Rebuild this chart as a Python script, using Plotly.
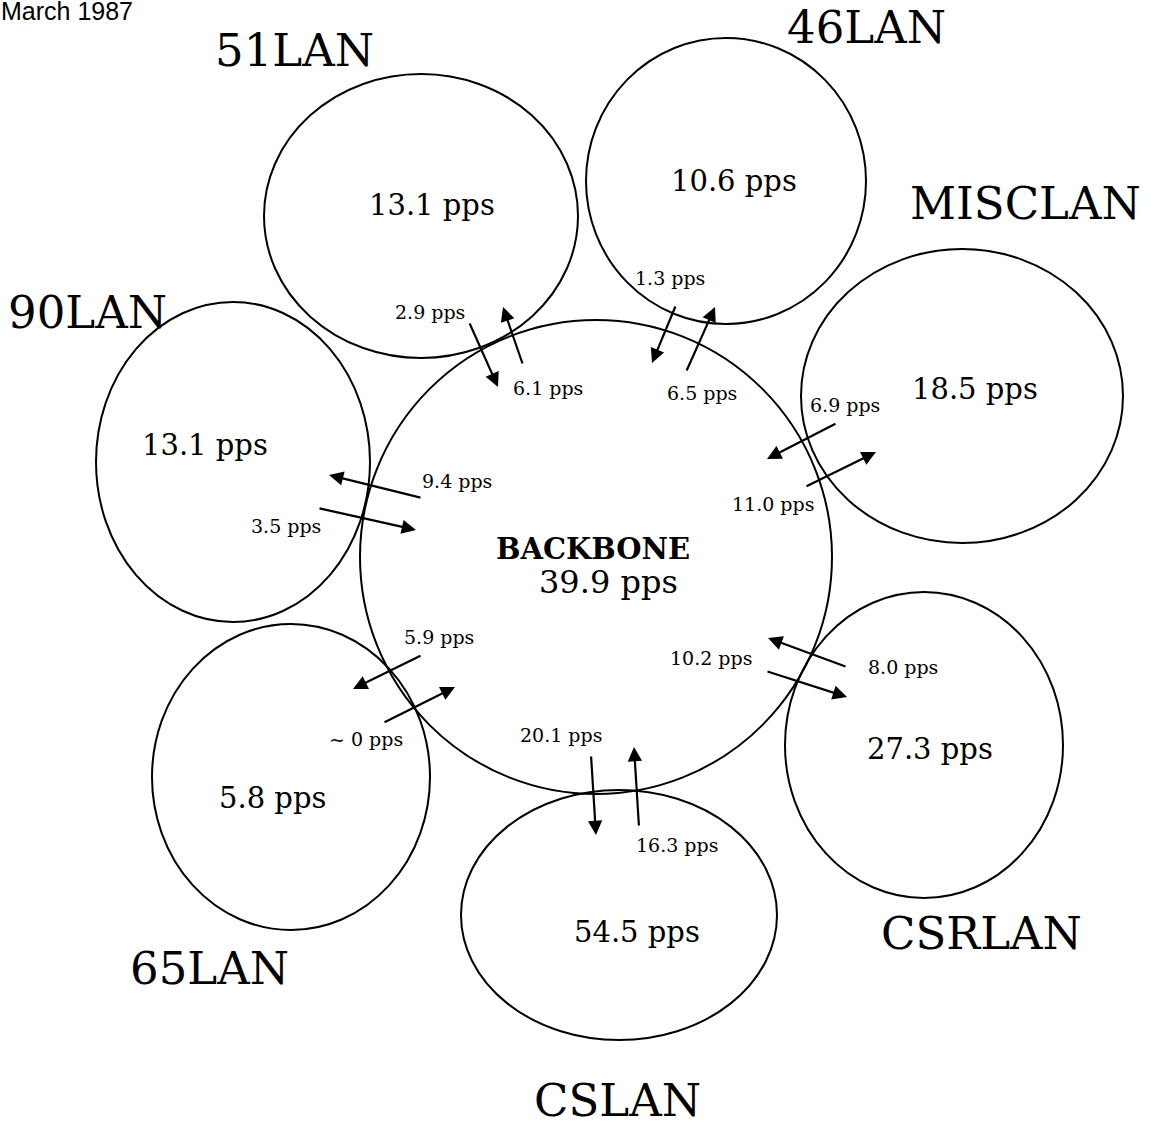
import plotly.graph_objects as go

# ---------------- data ----------------
lan_names = ["51LAN", "46LAN", "MISCLAN", "90LAN", "65LAN", "CSLAN", "CSRLAN"]
lan_pps = ["13.1 pps", "10.6 pps", "18.5 pps", "13.1 pps", "5.8 pps", "54.5 pps", "27.3 pps"]
to_backbone = ["2.9 pps", "1.3 pps", "6.9 pps", "3.5 pps", "~ 0 pps", "16.3 pps", "8.0 pps"]
from_backbone = ["6.1 pps", "6.5 pps", "11.0 pps", "9.4 pps", "5.9 pps", "20.1 pps", "10.2 pps"]
backbone_name = "BACKBONE"
backbone_pps = "39.9 pps"
date_label = "March 1987"

# ---------------- layout (pixel geometry of the diagram) ----------------
W, H = 1154, 1127
backbone_ellipse = (596, 557, 236, 237)  # cx, cy, rx, ry
lan_ellipses = [
    (421, 216, 157, 142),
    (726, 181, 140, 143),
    (962, 396, 161, 147),
    (233, 462, 137, 160),
    (291, 777, 139, 153),
    (619, 915, 158, 125),
    (924, 745, 139, 153),
]
name_pos = [(294, 50), (866, 27), (1025, 203), (87, 312), (209, 968), (617, 1100), (981, 933)]
pps_pos = [(432, 205), (734, 181), (975, 389), (205, 445), (272, 798), (637, 932), (930, 749)]
# arrows: (tail_x, tail_y, head_x, head_y)
in_arrows = [
    (469, 322, 498, 387),
    (676, 305, 652, 363),
    (837, 423, 767, 459),
    (318, 508, 416, 530),
    (383, 723, 455, 687),
    (639, 827, 634, 747),
    (847, 667, 768, 638),
]
out_arrows = [
    (523, 365, 503, 307),
    (686, 372, 715, 307),
    (805, 487, 876, 452),
    (422, 498, 329, 475),
    (422, 655, 353, 689),
    (591, 755, 596, 835),
    (766, 671, 847, 697),
]
in_label_pos = [(430, 312), (670, 278), (845, 405), (286, 526), (366, 739), (677, 845), (903, 667)]
out_label_pos = [(548, 388), (702, 393), (773, 504), (457, 481), (439, 637), (561, 735), (711, 658)]

SERIF = "DejaVu Serif"

fig = go.Figure()
shapes = []
annotations = []


def ellipse(cx, cy, rx, ry):
    return dict(type="circle", xref="x", yref="y", x0=cx - rx, x1=cx + rx,
                y0=cy - ry, y1=cy + ry, line=dict(color="black", width=2),
                fillcolor="rgba(0,0,0,0)")


shapes.append(ellipse(*backbone_ellipse))
for e in lan_ellipses:
    shapes.append(ellipse(*e))


def text(x, y, s, size, bold=False, family=SERIF):
    annotations.append(dict(x=x, y=y, xref="x", yref="y", text=f"<b>{s}</b>" if bold else s,
                            showarrow=False, font=dict(family=family, size=size, color="black"),
                            xanchor="center", yanchor="middle"))


def arrow(t):
    tx, ty, hx, hy = t
    annotations.append(dict(x=hx, y=hy, ax=tx, ay=ty, xref="x", yref="y", axref="x", ayref="y",
                            text="", showarrow=True, arrowhead=2, arrowsize=1.3, arrowwidth=2.2,
                            arrowcolor="black", standoff=0, startstandoff=0))


for i, name in enumerate(lan_names):
    text(*name_pos[i], name, 45)
    text(*pps_pos[i], lan_pps[i], 29)
    arrow(in_arrows[i])
    arrow(out_arrows[i])
    text(*in_label_pos[i], to_backbone[i], 19)
    text(*out_label_pos[i], from_backbone[i], 19)

text(593, 549, backbone_name, 29, bold=True)
text(608, 582, backbone_pps, 32)
annotations.append(dict(x=0, y=1, xref="paper", yref="paper", text=date_label, showarrow=False,
                        font=dict(family="Liberation Sans", size=25, color="black"),
                        xanchor="left", yanchor="middle", xshift=-1, yshift=-11))

# invisible trace to establish axes
fig.add_trace(go.Scatter(x=[1, W - 1], y=[1, H - 1], mode="markers", marker=dict(opacity=0),
                         hoverinfo="skip", showlegend=False))

fig.update_layout(
    width=W, height=H, margin=dict(l=0, r=0, t=0, b=0),
    paper_bgcolor="white", plot_bgcolor="white",
    xaxis=dict(range=[0, W], visible=False, fixedrange=True),
    yaxis=dict(range=[H, 0], visible=False, fixedrange=True),
    shapes=shapes, annotations=annotations, showlegend=False,
)

fig.write_html("out.html", config={"displayModeBar": False},
               post_script="document.body.style.margin='0';document.body.style.overflow='hidden';")
